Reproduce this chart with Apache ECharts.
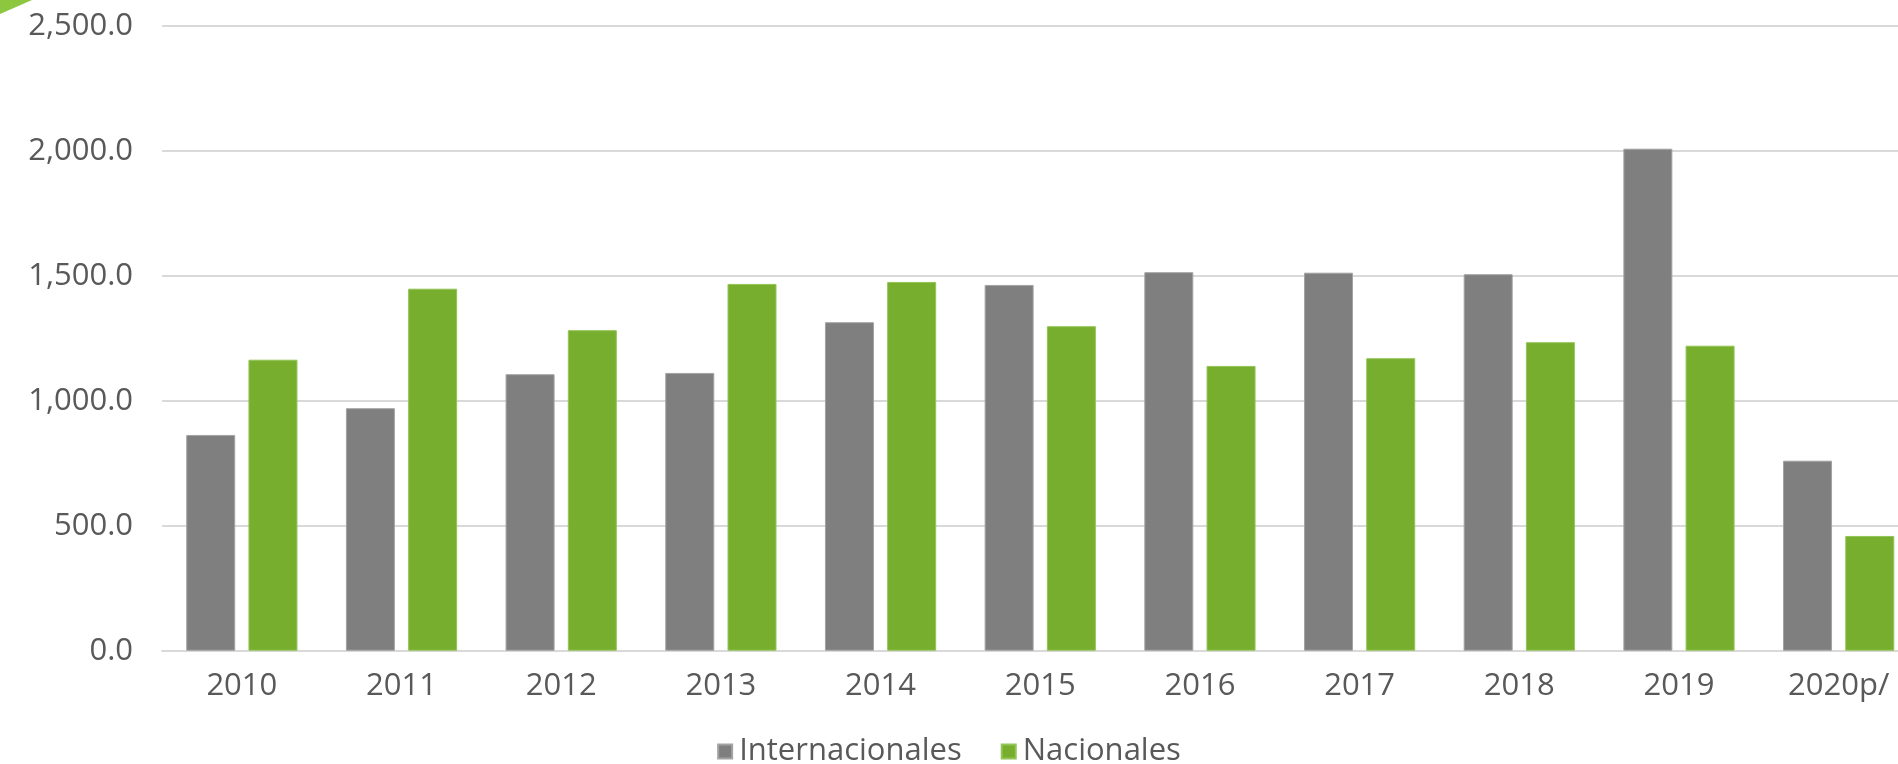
<!DOCTYPE html>
<html>
<head>
<meta charset="utf-8">
<script src="https://cdn.jsdelivr.net/npm/echarts@6/dist/echarts.min.js"></script>
<style>
  html, body { margin: 0; padding: 0; background: #ffffff; }
  #chart { width: 1898px; height: 764px; }
</style>
</head>
<body>
<div id="chart"></div>
<script>
// Yearly totals by origin
const years = ['2010', '2011', '2012', '2013', '2014', '2015', '2016', '2017', '2018', '2019', '2020p/'];
const internacionales = [863, 970, 1106, 1111, 1314, 1463, 1514, 1512, 1506, 2008, 760];
const nacionales = [1164, 1448, 1282, 1467, 1475, 1298, 1139, 1170, 1234, 1220, 459];
const seriesNames = ['Internacionales', 'Nacionales'];

const FONT = 'Open Sans';
const TEXT = '#595959';
const GRID_LINE = '#d9d9d9';

const chart = echarts.init(document.getElementById('chart'), null, { renderer: 'canvas' });

const fmt = v => v.toLocaleString('en-US', { minimumFractionDigits: 1, maximumFractionDigits: 1 });

chart.setOption({
  backgroundColor: '#ffffff',
  animation: false,
  textStyle: { fontFamily: FONT },
  graphic: [{
    type: 'polygon',
    shape: { points: [[0, 0], [32, 0], [0, 14]] },
    style: { fill: '#8dc63f' }
  }],
  // the plot area runs past the right edge of the canvas
  grid: { left: 162, width: 1756.5, top: 25.7, height: 625, outerBoundsMode: 'none', containLabel: false },
  legend: {
    data: seriesNames,
    left: 'center',
    top: 731,
    icon: 'rect',
    itemWidth: 14,
    itemHeight: 14,
    itemGap: 39,
    textStyle: { color: TEXT, fontSize: 31, fontFamily: FONT, padding: [0, 0, 0, 2] }
  },
  xAxis: {
    type: 'category',
    data: years,
    axisTick: { show: false },
    axisLine: { lineStyle: { color: GRID_LINE, width: 2 } },
    axisLabel: { color: TEXT, fontSize: 31, margin: 20, fontFamily: FONT }
  },
  yAxis: {
    type: 'value',
    min: 0,
    max: 2500,
    interval: 500,
    axisLine: { show: false },
    axisTick: { show: false },
    splitLine: { lineStyle: { color: GRID_LINE, width: 2 } },
    axisLabel: { color: TEXT, fontSize: 31, margin: 29, fontFamily: FONT, formatter: fmt }
  },
  series: [
    {
      name: seriesNames[0],
      type: 'bar',
      data: internacionales,
      barWidth: 49,
      barGap: '27%',
      itemStyle: { color: '#7f7f7f', borderColor: '#a3a3a3', borderWidth: 1 }
    },
    {
      name: seriesNames[1],
      type: 'bar',
      data: nacionales,
      barWidth: 49,
      barGap: '27%',
      itemStyle: { color: '#77ae2e', borderColor: '#92c456', borderWidth: 1 }
    }
  ]
});
</script>
</body>
</html>
